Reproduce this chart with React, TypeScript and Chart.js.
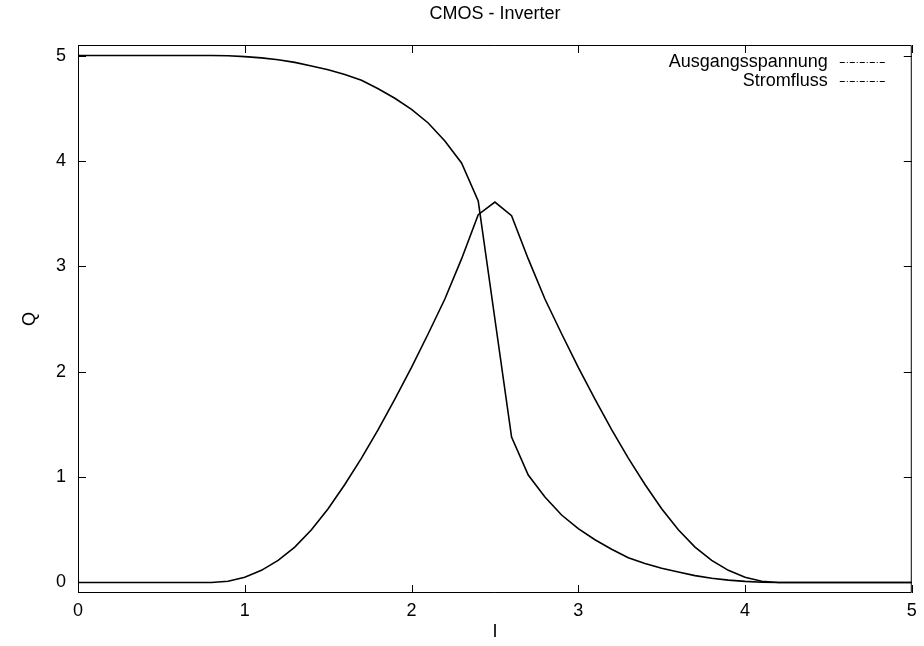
import React, { useEffect, useRef } from "react";
import { Chart, registerables } from "chart.js";

Chart.register(...registerables);

const TITLE = "CMOS - Inverter";
const X_LABEL = "I";
const Y_LABEL = "Q";

const inputI = [
  0, 0.1, 0.2, 0.3, 0.4, 0.5, 0.6, 0.7, 0.8, 0.9,
  1.0, 1.1, 1.2, 1.3, 1.4, 1.5, 1.6, 1.7, 1.8, 1.9,
  2.0, 2.1, 2.2, 2.3, 2.4, 2.5, 2.6, 2.7, 2.8, 2.9,
  3.0, 3.1, 3.2, 3.3, 3.4, 3.5, 3.6, 3.7, 3.8, 3.9,
  4.0, 4.1, 4.2, 4.3, 4.4, 4.5, 4.6, 4.7, 4.8, 4.9, 5.0,
];

const ausgangsspannung = [
  5, 5, 5, 5, 5, 5, 5, 5, 5, 4.998,
  4.99, 4.978, 4.96, 4.935, 4.9, 4.865, 4.82, 4.765, 4.685, 4.595,
  4.49, 4.36, 4.19, 3.98, 3.62, 2.5, 1.38, 1.02, 0.81, 0.64,
  0.51, 0.405, 0.315, 0.235, 0.18, 0.135, 0.1, 0.065, 0.04, 0.022,
  0.01, 0.002, 0, 0, 0, 0, 0, 0, 0, 0, 0,
];

const stromfluss = [
  0, 0, 0, 0, 0, 0, 0, 0, 0, 0.012,
  0.05, 0.115, 0.21, 0.335, 0.5, 0.7, 0.93, 1.18, 1.45, 1.74,
  2.04, 2.36, 2.69, 3.07, 3.49, 3.61, 3.48, 3.07, 2.69, 2.36,
  2.04, 1.74, 1.45, 1.18, 0.93, 0.7, 0.5, 0.335, 0.21, 0.115,
  0.05, 0.012, 0, 0, 0, 0, 0, 0, 0, 0, 0,
];

const seriesLabels = ["Ausgangsspannung", "Stromfluss"];
const xTicks = [0, 1, 2, 3, 4, 5];
const yTicks = [0, 1, 2, 3, 4, 5];

const FONT_FAMILY = "'Liberation Sans', Arial, Helvetica, sans-serif";
const FONT_SIZE = 18;

const framePlugin = {
  id: "gnuplotFrame",
  afterDatasetsDraw(chart: any) {
    const { ctx, chartArea } = chart;
    const { left, right, top, bottom } = chartArea;
    const xs = chart.scales.x;
    const ys = chart.scales.y;
    ctx.save();
    ctx.strokeStyle = "#000";
    ctx.lineWidth = 1;
    ctx.beginPath();
    ctx.rect(left + 0.5, top + 0.5, right - left - 1, bottom - top - 1);
    ctx.stroke();
    const tl = 8;
    ctx.beginPath();
    xTicks.forEach((v) => {
      const px = Math.round(xs.getPixelForValue(v)) + 0.5;
      ctx.moveTo(px, bottom);
      ctx.lineTo(px, bottom - tl);
      ctx.moveTo(px, top);
      ctx.lineTo(px, top + tl);
    });
    yTicks.forEach((v) => {
      const py = Math.round(ys.getPixelForValue(v)) + 0.5;
      ctx.moveTo(left, py);
      ctx.lineTo(left + tl, py);
      ctx.moveTo(right, py);
      ctx.lineTo(right - tl, py);
    });
    ctx.stroke();

    // legend
    ctx.font = `${FONT_SIZE}px ${FONT_FAMILY}`;
    ctx.fillStyle = "#000";
    ctx.textAlign = "right";
    ctx.textBaseline = "middle";
    const textRight = right - 84;
    const rowY0 = top + 17;
    const rowH = 18.7;
    chart.data.datasets.forEach((ds: any, i: number) => {
      const y = rowY0 + i * rowH;
      ctx.fillText(ds.label, textRight, y);
      ctx.save();
      ctx.lineWidth = 1;
      ctx.setLineDash([5, 2, 1, 2]);
      ctx.beginPath();
      ctx.moveTo(textRight + 12, Math.round(y) + 0.5);
      ctx.lineTo(textRight + 59, Math.round(y) + 0.5);
      ctx.stroke();
      ctx.restore();
    });
    ctx.restore();
  },
};

export default function App() {
  const canvasRef = useRef<HTMLCanvasElement | null>(null);

  useEffect(() => {
    const canvas = canvasRef.current;
    if (!canvas) return;
    const makePoints = (vals: number[]) =>
      inputI.map((x, i) => ({ x, y: vals[i] }));

    const chart = new Chart(canvas, {
      type: "line",
      data: {
        datasets: [
          {
            label: seriesLabels[0],
            data: makePoints(ausgangsspannung),
            borderColor: "#000",
            borderWidth: 1.6,
            pointRadius: 0,
            tension: 0,
            fill: false,
          },
          {
            label: seriesLabels[1],
            data: makePoints(stromfluss),
            borderColor: "#000",
            borderWidth: 1.6,
            pointRadius: 0,
            tension: 0,
            fill: false,
          },
        ],
      },
      options: {
        responsive: false,
        animation: false,
        devicePixelRatio: 1,
        layout: { padding: { left: 0, right: 8, top: 0, bottom: 0 } },
        font: { family: FONT_FAMILY, size: FONT_SIZE },
        plugins: {
          legend: { display: false },
          tooltip: { enabled: false },
          title: {
            display: true,
            text: TITLE,
            fullSize: false,
            color: "#000",
            font: { family: FONT_FAMILY, size: FONT_SIZE, weight: "normal" },
            padding: { top: 3.4, bottom: 20 },
          },
        },
        scales: {
          x: {
            type: "linear",
            min: 0,
            max: 5,
            afterBuildTicks: (scale: any) => {
              scale.ticks = xTicks.map((v) => ({ value: v }));
            },
            afterFit: (scale: any) => {
              scale.height = 53;
            },
            grid: { display: false, drawTicks: false },
            border: { display: false },
            ticks: {
              color: "#000",
              padding: 7.2,
              maxRotation: 0,
              autoSkip: false,
              font: { family: FONT_FAMILY, size: FONT_SIZE },
              callback: (v: any) => String(v),
            },
            title: {
              display: true,
              text: X_LABEL,
              color: "#000",
              font: { family: FONT_FAMILY, size: FONT_SIZE },
              padding: { top: 0, bottom: 3.2 },
            },
          },
          y: {
            type: "linear",
            min: -0.1,
            max: 5.1,
            afterBuildTicks: (scale: any) => {
              scale.ticks = yTicks.map((v) => ({ value: v }));
            },
            afterFit: (scale: any) => {
              scale.width = 78;
            },
            grid: { display: false, drawTicks: false },
            border: { display: false },
            ticks: {
              color: "#000",
              padding: 12,
              autoSkip: false,
              font: { family: FONT_FAMILY, size: FONT_SIZE },
              callback: (v: any) => String(v),
            },
            title: {
              display: true,
              text: Y_LABEL,
              color: "#000",
              font: { family: FONT_FAMILY, size: FONT_SIZE },
              padding: { top: 19.2, bottom: 0 },
            },
          },
        },
      },
      plugins: [framePlugin],
    });
    return () => chart.destroy();
  }, []);

  return (
    <div style={{ position: "absolute", left: 0, top: 0, width: 924, height: 646, background: "#fff" }}>
      <canvas ref={canvasRef} width={924} height={646} style={{ display: "block" }} />
    </div>
  );
}
